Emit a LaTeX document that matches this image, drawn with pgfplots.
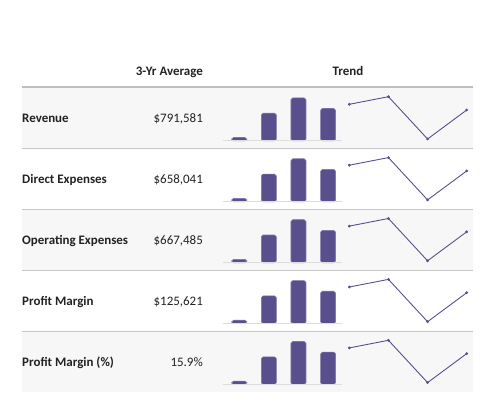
\documentclass[border=0pt]{standalone}
\usepackage{pgfplots}
\pgfplotsset{compat=1.18}
\usepackage{pgfplotstable}
\usepackage{fontspec}
\setmainfont{Carlito}
\definecolor{barc}{HTML}{5A4F8D}
\definecolor{baredge}{HTML}{7D74AA}
\definecolor{linec}{HTML}{5A4F8D}
\definecolor{rowbg}{HTML}{F7F7F7}
\definecolor{sepc}{HTML}{C6C6C6}
\definecolor{headc}{HTML}{BEBEBE}
\definecolor{basec}{HTML}{DDDDDD}
\definecolor{txt}{HTML}{222222}

\pgfplotstableread{
x y
0 7.9
1 64.4
2 100
3 75.3
}\bardata
\pgfplotstableread{
x y
0 34.7
1 42.3
2 0
3 29
}\linedata

\begin{document}
\begin{tikzpicture}[x=1bp,y=1bp]
\path[use as bounding box] (0,0) rectangle (500,400);
% row backgrounds
\foreach \i in {0,2,4}{
  \pgfmathsetmacro\rt{400-87.5-60.9*\i}
  \pgfmathsetmacro\rb{\rt-60.9}
  \fill[rowbg] (22,\rt) rectangle (472.7,\rb);
}
% separators
\foreach \i in {1,2,3,4}{
  \pgfmathsetmacro\rt{400-87.5-60.9*\i}
  \draw[sepc, line width=1bp] (22,\rt) -- (472.7,\rt);
}
\draw[headc, line width=1.8bp] (22,400-86.7) -- (472.7,400-86.7);
% header
\node[anchor=base east, inner sep=0pt, text=txt, font=\bfseries\fontsize{13}{15}\selectfont] at (203,400-75) {3-Yr Average};
\node[anchor=base, inner sep=0pt, text=txt, font=\bfseries\fontsize{13}{15}\selectfont] at (348,400-75) {Trend};
% rows
\foreach \i/\lab/\val in {0/Revenue/{\$791,581},1/Direct Expenses/{\$658,041},2/Operating Expenses/{\$667,485},3/Profit Margin/{\$125,621},4/Profit Margin (\%)/{15.9\%}}{
  \pgfmathsetmacro\rt{87.5+60.9*\i}
  \pgfmathsetmacro\yt{400-\rt-35}
  \pgfmathsetmacro\yb{400-\rt-53.4}
  \pgfmathsetmacro\yl{400-\rt-51.5}
  \node[anchor=base west, inner sep=0pt, text=txt, font=\bfseries\fontsize{13}{15}\selectfont] at (22,\yt) {\lab};
  \node[anchor=base east, inner sep=0pt, text=txt, font=\fontsize{13}{15}\selectfont] at (203,\yt) {\val};
  \begin{axis}[at={(222.7bp,\yb bp)}, anchor=south west, hide axis, scale only axis,
    width=119bp, height=43bp, xmin=-0.557, xmax=3.46, ymin=0, ymax=100,
    ybar, bar width=15bp, clip=false]
    \addplot[fill=barc, draw=baredge, line width=0.6bp, rounded corners=1.8bp] table {\bardata};
    \draw[basec, line width=0.8bp] (rel axis cs:0,0) -- (rel axis cs:1,0);
  \end{axis}
  \begin{axis}[at={(349.3bp,\yl bp)}, anchor=south west, hide axis, scale only axis,
    width=117.4bp, height=42.3bp, xmin=0, xmax=3, ymin=0, ymax=42.3, clip=false]
    \addplot[color=linec, line width=0.9bp, mark=*, mark size=0.9bp, mark options={fill=linec}] table {\linedata};
  \end{axis}
}
\end{tikzpicture}
\end{document}
